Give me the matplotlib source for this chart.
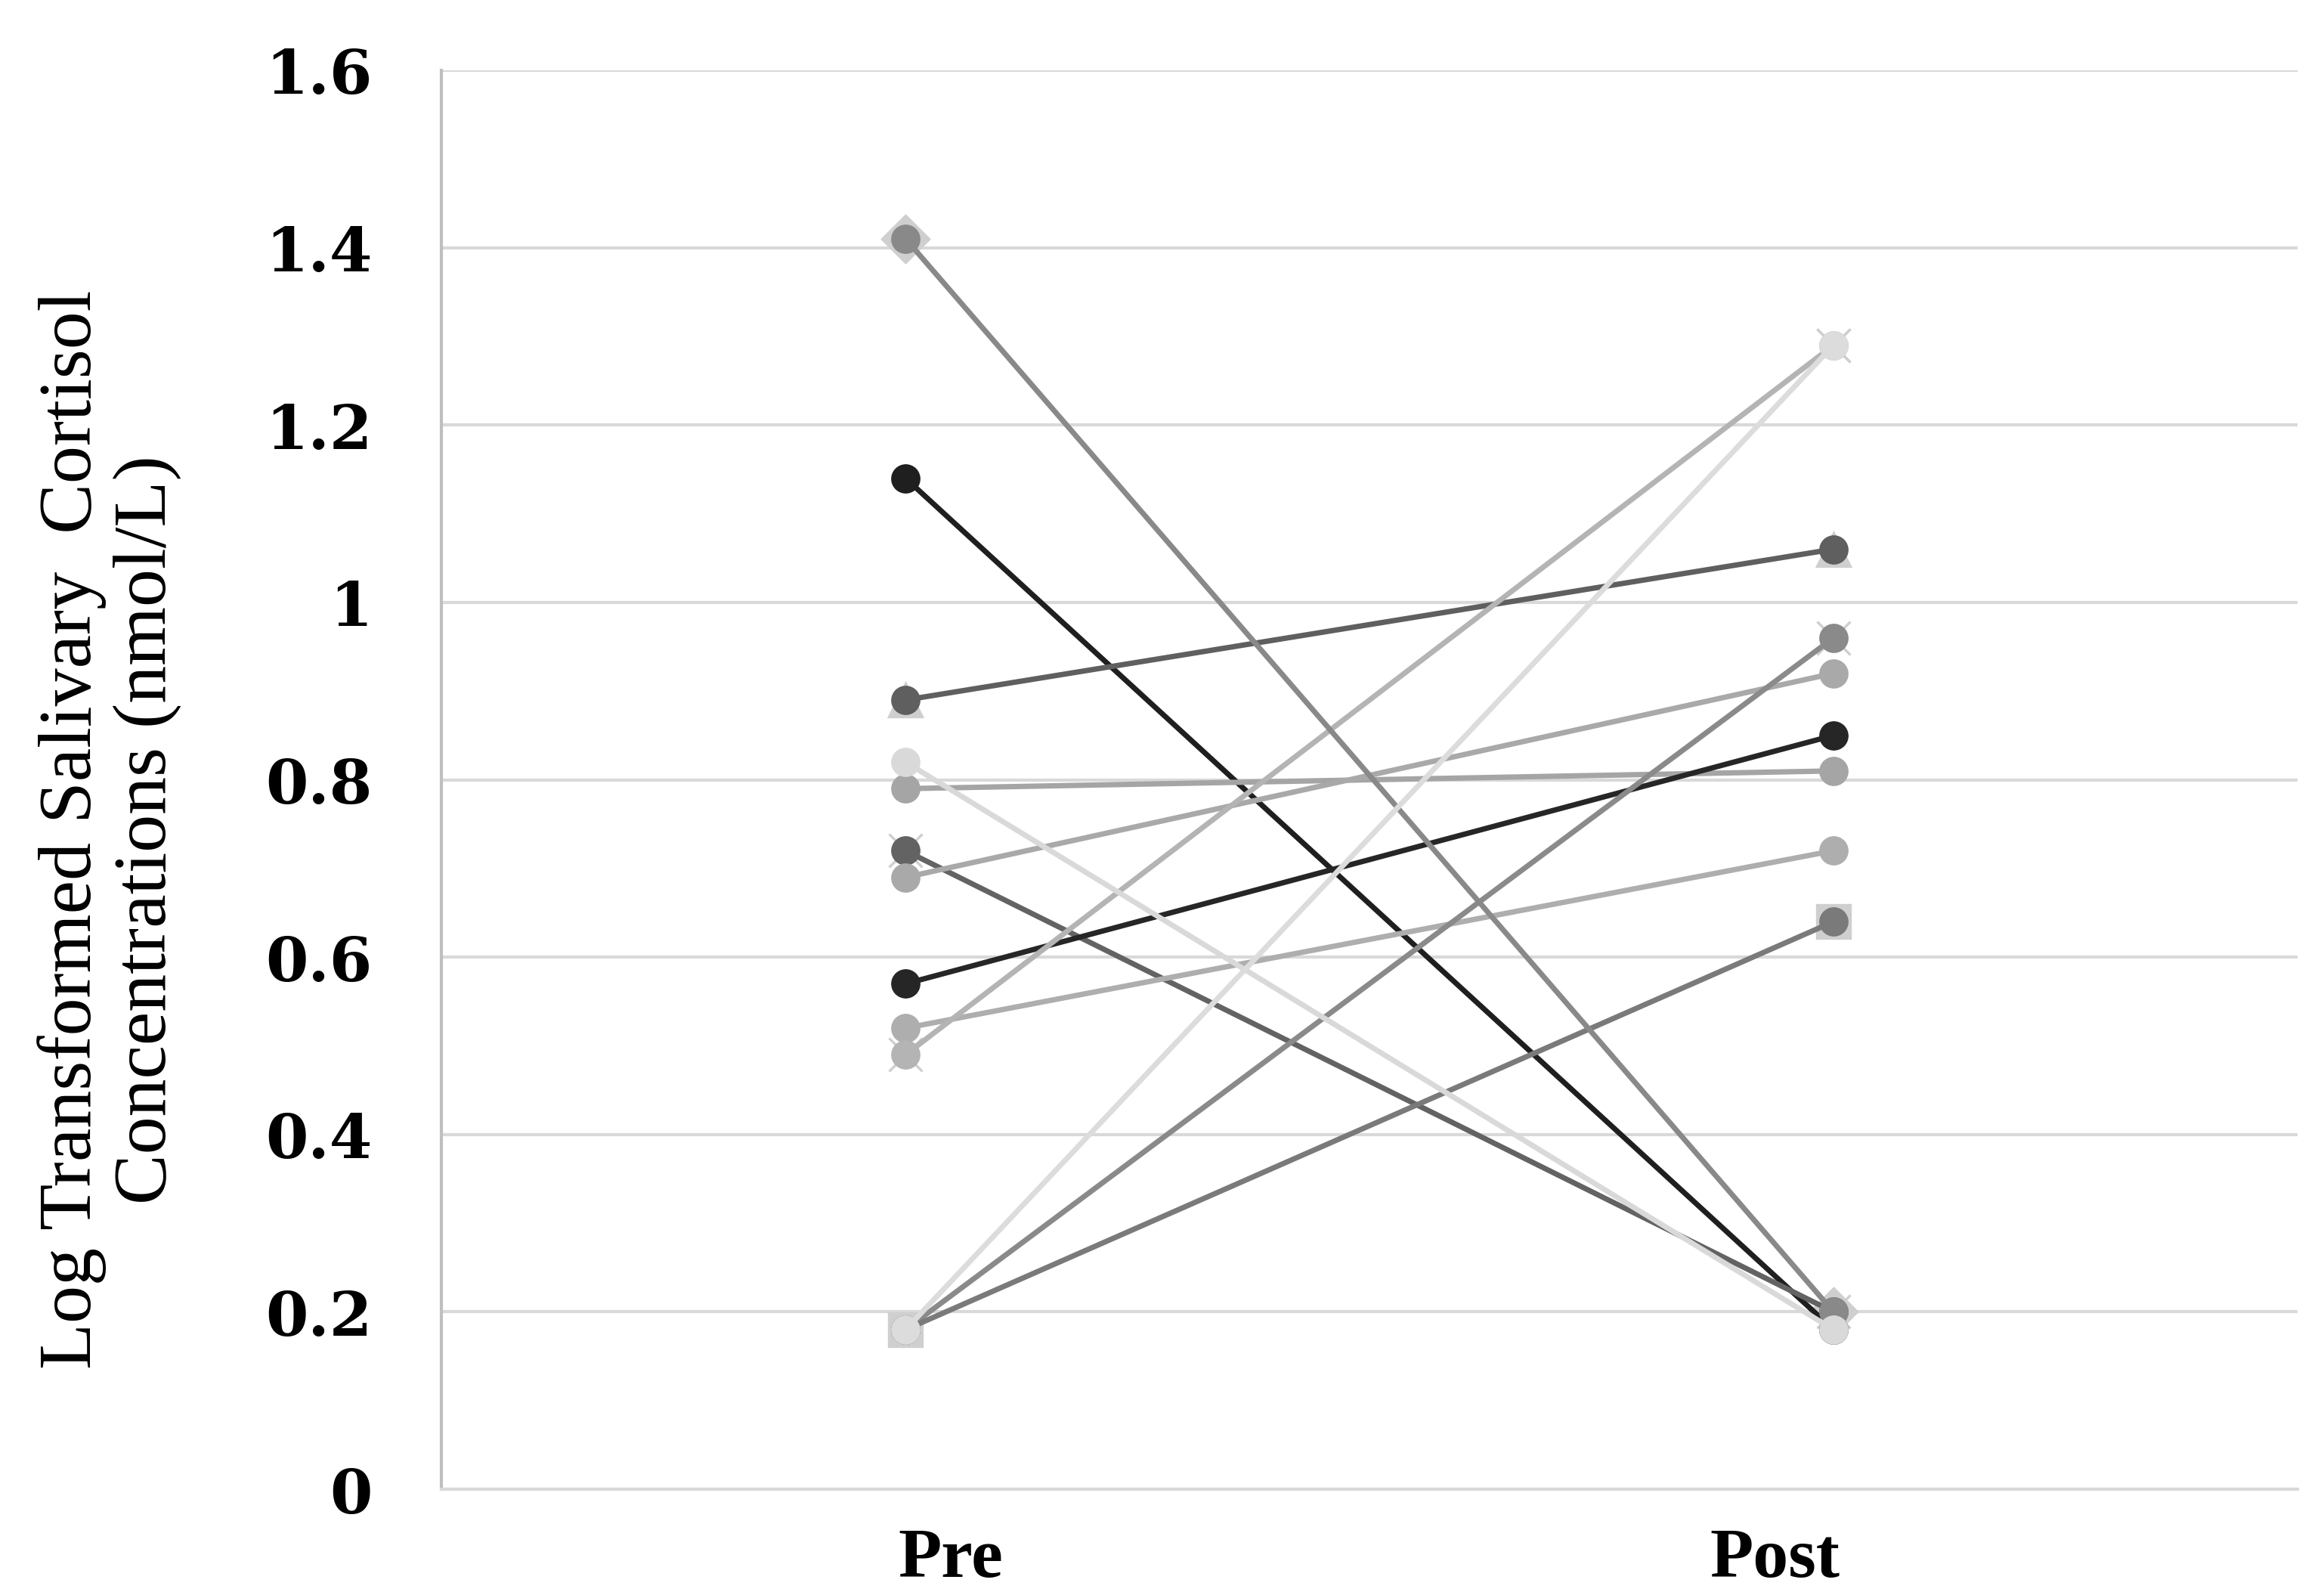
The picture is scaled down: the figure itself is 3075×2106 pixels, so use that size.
"""Pre/post log-transformed salivary cortisol, one line per participant."""
import matplotlib

matplotlib.use("Agg")
import matplotlib.pyplot as plt
from matplotlib.transforms import ScaledTranslation

# data (drawing order: later series sit on top)
sessions = ["Pre", "Post"]
pre_values = [1.14, 0.89, 0.79, 0.72, 0.69, 0.57, 0.52, 0.49, 0.18, 0.18, 1.41, 0.82, 0.18]
post_values = [0.18, 1.06, 0.81, 0.20, 0.92, 0.85, 0.72, 1.29, 0.96, 0.64, 0.20, 0.18, 1.29]
line_colors = ["#1f1f1f", "#5f5f5f", "#a5a5a5", "#636363", "#a9a9a9", "#262626", "#aeaeae",
               "#b4b4b4", "#8a8a8a", "#7a7a7a", "#898989", "#d9d9d9", "#dcdcdc"]
# leftover Excel markers peeking out from under the circles
back_markers = [None, "^", None, "x", None, None, None, "x", "x", "s", "D", None, "x"]

plt.rcParams["font.family"] = ["Liberation Serif", "DejaVu Serif"]

fig = plt.figure(figsize=(10.25, 7.0233), dpi=300)
ax = fig.add_axes([0.190, 0.0645, 0.7986, 0.8909])

x = list(range(len(sessions)))
for pre, post, color, back in zip(pre_values, post_values, line_colors, back_markers):
    if back is not None:
        ax.plot(x, [pre, post], linestyle="none", marker=back, markersize=10.5,
                color="#cfcfcf", markeredgewidth=0.8, zorder=2)
    ax.plot(x, [pre, post], color=color, linewidth=1.7, marker="o", markersize=9.3,
            markeredgewidth=0, zorder=3)

ax.set_xlim(-0.5, 1.5)
ax.set_ylim(0, 1.6)
ax.set_yticks([0, 0.2, 0.4, 0.6, 0.8, 1.0, 1.2, 1.4, 1.6])
ax.set_yticklabels(["0", "0.2", "0.4", "0.6", "0.8", "1", "1.2", "1.4", "1.6"])
ax.set_xticks(x)
ax.set_xticklabels(sessions)
ax.tick_params(axis="both", length=0)
ax.tick_params(axis="y", pad=22)
ax.tick_params(axis="x", pad=12)
for lbl in ax.get_yticklabels():
    lbl.set_fontweight("bold")
    lbl.set_fontfamily("DejaVu Serif")
    lbl.set_fontsize(19.5)
# the category labels sit a little off their points in the original
label_shift = [0.197, -0.26]
for lbl, dx in zip(ax.get_xticklabels(), label_shift):
    lbl.set_fontweight("bold")
    lbl.set_fontsize(22.5)
    lbl.set_transform(lbl.get_transform() + ScaledTranslation(dx, 0, fig.dpi_scale_trans))

ax.grid(axis="y", color="#d9d9d9", linewidth=1.0, zorder=0)
ax.set_axisbelow(True)
for side in ["top", "right"]:
    ax.spines[side].set_visible(False)
ax.spines["left"].set_color("#bfbfbf")
ax.spines["left"].set_linewidth(1.0)
ax.spines["bottom"].set_color("#d9d9d9")
ax.spines["bottom"].set_linewidth(1.0)

fig.text(0.047, 0.479, "Log Transformed Salivary  Cortisol\nConcentrations (nmol/L)",
         rotation=90, ha="center", va="center", multialignment="center",
         fontsize=24, linespacing=1.12)

fig.savefig("out.png", dpi=300)
plt.close(fig)
